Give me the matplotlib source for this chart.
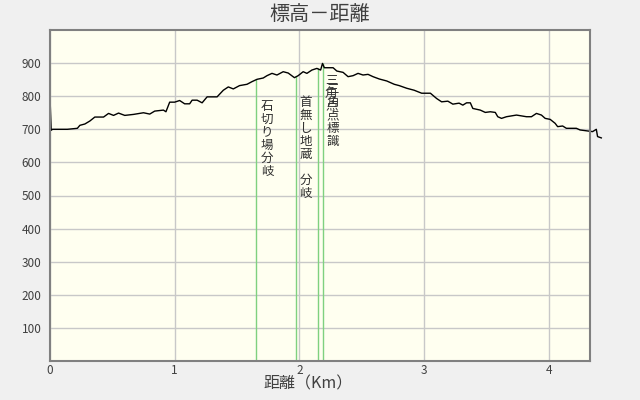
import matplotlib
matplotlib.use("Agg")
import matplotlib.pyplot as plt

plt.rcParams['font.family'] = ['Noto Sans CJK JP', 'DejaVu Sans']

# 距離 (km) と 標高 (m)
dist = [0.0, 0.005, 0.01, 0.02, 0.14, 0.22, 0.24, 0.28, 0.32, 0.36, 0.43, 0.47, 0.51, 0.55,
        0.6, 0.67, 0.75, 0.8, 0.84, 0.91, 0.93, 0.96, 1.0, 1.04, 1.08, 1.12, 1.14, 1.18,
        1.22, 1.26, 1.34, 1.39, 1.43, 1.47, 1.52, 1.58, 1.62, 1.66, 1.71, 1.74, 1.78, 1.82,
        1.87, 1.91, 1.96, 1.99, 2.03, 2.06, 2.1, 2.14, 2.17, 2.185, 2.2, 2.27, 2.3, 2.35,
        2.39, 2.43, 2.47, 2.51, 2.55, 2.59, 2.64, 2.7, 2.76, 2.8, 2.86, 2.92, 2.98, 3.05,
        3.1, 3.14, 3.19, 3.23, 3.28, 3.31, 3.34, 3.37, 3.39, 3.45, 3.49, 3.53, 3.57, 3.59,
        3.62, 3.66, 3.74, 3.82, 3.86, 3.9, 3.94, 3.97, 4.01, 4.05, 4.07, 4.11, 4.14, 4.22,
        4.25, 4.31, 4.35, 4.38, 4.39, 4.42]
elev = [805, 750, 697, 700, 700, 703, 712, 716, 725, 737, 737, 748, 742, 749,
        742, 745, 750, 746, 755, 758, 753, 782, 782, 787, 777, 777, 788, 788,
        780, 798, 798, 818, 828, 822, 832, 836, 844, 851, 855, 862, 869, 864,
        874, 870, 856, 862, 874, 869, 879, 884, 879, 899, 886, 886, 876, 872,
        859, 862, 869, 864, 866, 859, 852, 846, 836, 832, 824, 818, 809, 809,
        793, 783, 785, 776, 779, 773, 780, 780, 763, 758, 751, 753, 751, 738,
        733, 738, 743, 738, 738, 748, 743, 733, 730, 718, 708, 710, 703, 703,
        698, 695, 693, 700, 678, 674]

# 地点
wp_names = ["石切り場分岐", "首無し地蔵 分岐", "三角点", "三角点標識"]
wp_dist = [1.653, 1.974, 2.15, 2.19]
wp_elev = [851, 860, 884, 899]
label_x = [1.74, 2.05, 2.255, 2.265]
label_y = [790, 800, 868, 840]

fig = plt.figure(figsize=(6.4, 4.0), dpi=100, facecolor="#F0F0F0")
ax = fig.add_axes([0.078, 0.0975, 0.844, 0.8275])
ax.set_facecolor("#FFFFF0")

ax.set_xlim(0, 4.33)
ax.set_ylim(0, 1000)
ax.set_xticks([0, 1, 2, 3, 4])
ax.set_yticks(range(100, 1000, 100))
ax.grid(True, color="#C8C8C8", linewidth=1)
ax.set_axisbelow(True)
for s in ax.spines.values():
    s.set_color("#808080")
    s.set_linewidth(1.5)
ax.tick_params(length=0, labelsize=8.5, colors="#404040")
ax.tick_params(axis="x", pad=2)
ax.tick_params(axis="y", pad=6)

ax.vlines(wp_dist, 0, wp_elev, color="#7FD17F", linewidth=1)
for name, x, y in zip(wp_names, label_x, label_y):
    ax.text(x, y, "\n".join(name), ha="center", va="top", fontsize=9,
            linespacing=1.0, color="#303030")

ax.plot(dist, elev, color="black", linewidth=1, clip_on=False)

fig.text(0.5, 0.965, "標高－距離", ha="center", va="center", fontsize=14.5, color="#404040")
fig.text(0.482, 0.04, "距離（Km）", ha="center", va="center", fontsize=11.5, color="#404040")

fig.savefig("out.png", dpi=100, facecolor=fig.get_facecolor())
